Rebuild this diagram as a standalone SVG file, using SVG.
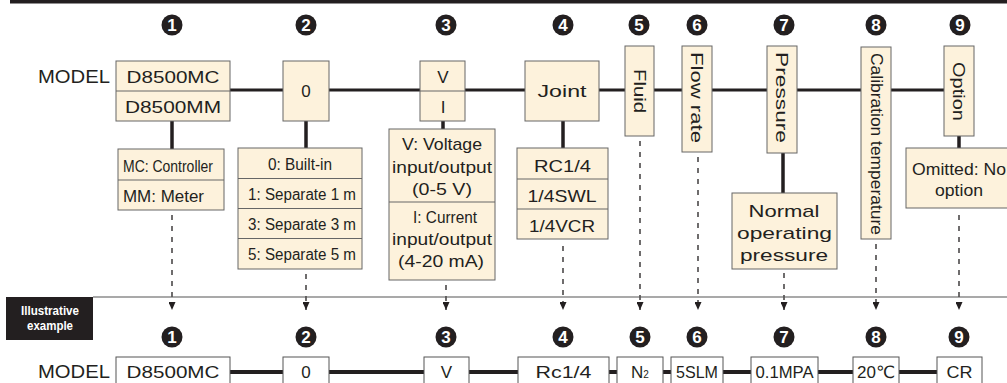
<svg xmlns="http://www.w3.org/2000/svg" width="1007" height="383" viewBox="0 0 1007 383">
<style>
text{font-family:"Liberation Sans","DejaVu Sans",sans-serif;fill:#231f20}
.bx{fill:#fdf2dc;stroke:#666;stroke-width:1}
.wb{fill:#fff;stroke:#555;stroke-width:1}
.main{stroke:#231f20;stroke-width:3;fill:none}
.mainb{stroke:#231f20;stroke-width:4;fill:none}
.vc{stroke:#231f20;stroke-width:3.5;fill:none}
.dash{stroke:#231f20;stroke-width:1.3;stroke-dasharray:5 6;fill:none}
.num{fill:#231f20}
.nt{fill:#fff;font-weight:bold;font-size:17px;text-anchor:middle}
.t17{font-size:17px}
.t16{font-size:16px}
.t14{font-size:14px}
.m{text-anchor:middle}
.w{fill:#fff;font-weight:bold;font-size:12px;text-anchor:middle}
</style>
<defs>
<marker id="arr" viewBox="0 0 8 7" refX="8" refY="3.5" markerWidth="8" markerHeight="7" markerUnits="userSpaceOnUse" orient="auto">
<path d="M0,0 L8,3.5 L0,7 z" fill="#231f20"/>
</marker>
</defs>
<rect x="10" y="0" width="997" height="3.5" fill="#231f20"/>

<g id="connectors">
<line class="main" x1="230" y1="90" x2="944" y2="90"/>
<line class="vc" x1="172" y1="121" x2="172" y2="149"/>
<line class="vc" x1="306" y1="121" x2="306" y2="148"/>
<line class="vc" x1="443" y1="121" x2="443" y2="129"/>
<line class="vc" x1="563" y1="121" x2="563" y2="148"/>
<line class="vc" x1="783" y1="153" x2="783" y2="193"/>
<line class="vc" x1="959" y1="136" x2="959" y2="148"/>
<line class="dash" x1="172" y1="215" x2="172" y2="310" marker-end="url(#arr)"/>
<line class="dash" x1="306" y1="274" x2="306" y2="310" marker-end="url(#arr)"/>
<line class="dash" x1="446" y1="285" x2="446" y2="310" marker-end="url(#arr)"/>
<line class="dash" x1="563" y1="246" x2="563" y2="310" marker-end="url(#arr)"/>
<line class="dash" x1="640" y1="141" x2="640" y2="310" marker-end="url(#arr)"/>
<line class="dash" x1="698" y1="157" x2="698" y2="310" marker-end="url(#arr)"/>
<line class="dash" x1="784" y1="273" x2="784" y2="310" marker-end="url(#arr)"/>
<line class="dash" x1="876" y1="244" x2="876" y2="310" marker-end="url(#arr)"/>
<line class="dash" x1="959" y1="215" x2="959" y2="310" marker-end="url(#arr)"/>
<line x1="93" y1="297" x2="1007" y2="297" stroke="#555" stroke-width="1.2"/>
<line class="mainb" x1="230" y1="372" x2="937" y2="372"/>
</g>

<g id="numbers-top">
<circle class="num" cx="172" cy="25" r="10.5"/><text class="nt" x="172" y="31">1</text>
<circle class="num" cx="306" cy="25" r="10.5"/><text class="nt" x="306" y="31">2</text>
<circle class="num" cx="446" cy="25" r="10.5"/><text class="nt" x="446" y="31">3</text>
<circle class="num" cx="563" cy="25" r="10.5"/><text class="nt" x="563" y="31">4</text>
<circle class="num" cx="639" cy="25" r="10.5"/><text class="nt" x="639" y="31">5</text>
<circle class="num" cx="697" cy="25" r="10.5"/><text class="nt" x="697" y="31">6</text>
<circle class="num" cx="784" cy="25" r="10.5"/><text class="nt" x="784" y="31">7</text>
<circle class="num" cx="876" cy="25" r="10.5"/><text class="nt" x="876" y="31">8</text>
<circle class="num" cx="960" cy="25" r="10.5"/><text class="nt" x="960" y="31">9</text>
</g>

<text x="38" y="83" font-size="18" textLength="72" lengthAdjust="spacingAndGlyphs">MODEL</text>

<g id="n1">
<rect class="bx" x="116" y="61" width="114" height="60"/>
<line x1="116" y1="91" x2="230" y2="91" stroke="#666"/>
<text class="t17 m" x="173" y="83" textLength="93" lengthAdjust="spacingAndGlyphs">D8500MC</text>
<text class="t17 m" x="173" y="113" textLength="96" lengthAdjust="spacingAndGlyphs">D8500MM</text>
</g>
<g id="n1-sub">
<rect class="bx" x="118" y="149" width="106" height="61"/>
<line x1="118" y1="180" x2="224" y2="180" stroke="#666"/>
<text class="t16" x="123" y="172" textLength="90" lengthAdjust="spacingAndGlyphs">MC: Controller</text>
<text class="t16" x="123" y="202" textLength="81" lengthAdjust="spacingAndGlyphs">MM: Meter</text>
</g>

<g id="n2">
<rect class="bx" x="283" y="61" width="46" height="60"/>
<text class="t17 m" x="306" y="97">0</text>
</g>
<g id="n2-sub">
<rect class="bx" x="238" y="148" width="124" height="121"/>
<line x1="238" y1="178.5" x2="362" y2="178.5" stroke="#666"/>
<line x1="238" y1="208.5" x2="362" y2="208.5" stroke="#666"/>
<line x1="238" y1="238.5" x2="362" y2="238.5" stroke="#666"/>
<text class="t16" x="268" y="170" textLength="64" lengthAdjust="spacingAndGlyphs">0: Built-in</text>
<text class="t16" x="248" y="200" textLength="108" lengthAdjust="spacingAndGlyphs">1: Separate 1 m</text>
<text class="t16" x="248" y="230" textLength="108" lengthAdjust="spacingAndGlyphs">3: Separate 3 m</text>
<text class="t16" x="248" y="260" textLength="108" lengthAdjust="spacingAndGlyphs">5: Separate 5 m</text>
</g>

<g id="n3">
<rect class="bx" x="420" y="61" width="45" height="60"/>
<line x1="420" y1="91" x2="465" y2="91" stroke="#666"/>
<text class="t17 m" x="443" y="83">V</text>
<text class="t17 m" x="443" y="113">I</text>
</g>
<g id="n3-sub">
<rect class="bx" x="389" y="129" width="106" height="151"/>
<line x1="389" y1="202" x2="495" y2="202" stroke="#666"/>
<text class="t17 m" x="442" y="150" textLength="80" lengthAdjust="spacingAndGlyphs">V: Voltage</text>
<text class="t17 m" x="442" y="173" textLength="100" lengthAdjust="spacingAndGlyphs">input/output</text>
<text class="t17 m" x="442" y="195" textLength="60" lengthAdjust="spacingAndGlyphs">(0-5 V)</text>
<text class="t17 m" x="445" y="223" textLength="64" lengthAdjust="spacingAndGlyphs">I: Current</text>
<text class="t17 m" x="442" y="245" textLength="100" lengthAdjust="spacingAndGlyphs">input/output</text>
<text class="t17 m" x="441" y="267" textLength="86" lengthAdjust="spacingAndGlyphs">(4-20 mA)</text>
</g>

<g id="n4">
<rect class="bx" x="525" y="61" width="74" height="60"/>
<text class="t17 m" x="562" y="97" textLength="49" lengthAdjust="spacingAndGlyphs">Joint</text>
</g>
<g id="n4-sub">
<rect class="bx" x="517" y="148" width="91" height="91"/>
<line x1="517" y1="179" x2="608" y2="179" stroke="#666"/>
<line x1="517" y1="209" x2="608" y2="209" stroke="#666"/>
<text class="t17 m" x="562.5" y="172" textLength="57" lengthAdjust="spacingAndGlyphs">RC1/4</text>
<text class="t17 m" x="562" y="202" textLength="69" lengthAdjust="spacingAndGlyphs">1/4SWL</text>
<text class="t17 m" x="562" y="232" textLength="66" lengthAdjust="spacingAndGlyphs">1/4VCR</text>
</g>

<g id="n5">
<rect class="bx" x="625" y="46" width="29" height="90"/>
<text class="t16 m" transform="translate(639.5,91) rotate(90)" x="0" y="5.8" textLength="44" lengthAdjust="spacingAndGlyphs">Fluid</text>
</g>

<g id="n6">
<rect class="bx" x="682" y="46" width="30" height="106"/>
<text class="t17 m" transform="translate(697,97.5) rotate(90)" x="0" y="6" textLength="91" lengthAdjust="spacingAndGlyphs">Flow rate</text>
</g>

<g id="n7">
<rect class="bx" x="767" y="46" width="30" height="107"/>
<text class="t17 m" transform="translate(782,97.5) rotate(90)" x="0" y="6" textLength="91" lengthAdjust="spacingAndGlyphs">Pressure</text>
</g>
<g id="n7-sub">
<rect class="bx" x="732" y="193" width="105" height="76"/>
<text class="t17 m" x="784" y="217" textLength="71" lengthAdjust="spacingAndGlyphs">Normal</text>
<text class="t17 m" x="784.5" y="239" textLength="95" lengthAdjust="spacingAndGlyphs">operating</text>
<text class="t17 m" x="784" y="261" textLength="88" lengthAdjust="spacingAndGlyphs">pressure</text>
</g>

<g id="n8">
<rect class="bx" x="861" y="47" width="30" height="192"/>
<text class="t16 m" transform="translate(876,144) rotate(90)" x="0" y="5.5" textLength="182" lengthAdjust="spacingAndGlyphs">Calibration temperature</text>
</g>

<g id="n9">
<rect class="bx" x="944" y="46" width="30" height="90"/>
<text class="t17 m" transform="translate(959,91.5) rotate(90)" x="0" y="6" textLength="59" lengthAdjust="spacingAndGlyphs">Option</text>
</g>
<g id="n9-sub">
<rect class="bx" x="906" y="148" width="106" height="60"/>
<text class="t17 m" x="959" y="175" textLength="94" lengthAdjust="spacingAndGlyphs">Omitted: No</text>
<text class="t17 m" x="959" y="196" textLength="48" lengthAdjust="spacingAndGlyphs">option</text>
</g>

<g id="example-label">
<rect x="6" y="297" width="87" height="43" fill="#231f20"/>
<text class="w" x="50" y="315" textLength="58" lengthAdjust="spacingAndGlyphs">Illustrative</text>
<text class="w" x="50" y="330" textLength="46" lengthAdjust="spacingAndGlyphs">example</text>
</g>

<g id="numbers-bottom">
<circle class="num" cx="172" cy="337" r="10.5"/><text class="nt" x="172" y="343">1</text>
<circle class="num" cx="306" cy="337" r="10.5"/><text class="nt" x="306" y="343">2</text>
<circle class="num" cx="446" cy="337" r="10.5"/><text class="nt" x="446" y="343">3</text>
<circle class="num" cx="563" cy="337" r="10.5"/><text class="nt" x="563" y="343">4</text>
<circle class="num" cx="640" cy="337" r="10.5"/><text class="nt" x="640" y="343">5</text>
<circle class="num" cx="697" cy="337" r="10.5"/><text class="nt" x="697" y="343">6</text>
<circle class="num" cx="784" cy="337" r="10.5"/><text class="nt" x="784" y="343">7</text>
<circle class="num" cx="876" cy="337" r="10.5"/><text class="nt" x="876" y="343">8</text>
<circle class="num" cx="959" cy="337" r="10.5"/><text class="nt" x="959" y="343">9</text>
</g>

<text x="38" y="378" font-size="18" textLength="72" lengthAdjust="spacingAndGlyphs">MODEL</text>
<g id="e1"><rect class="wb" x="116" y="357" width="114" height="40"/><text class="t17 m" x="173" y="378" textLength="93" lengthAdjust="spacingAndGlyphs">D8500MC</text></g>
<g id="e2"><rect class="wb" x="283" y="357" width="46" height="40"/><text class="t17 m" x="306" y="378">0</text></g>
<g id="e3"><rect class="wb" x="424" y="357" width="45" height="40"/><text class="t17 m" x="446.5" y="378">V</text></g>
<g id="e4"><rect class="wb" x="518" y="357" width="91" height="40"/><text class="t17 m" x="563.5" y="378" textLength="56" lengthAdjust="spacingAndGlyphs">Rc1/4</text></g>
<g id="e5"><rect class="wb" x="617" y="357" width="46" height="40"/><text class="t17 m" x="640" y="378">N<tspan font-size="10">2</tspan></text></g>
<g id="e6"><rect class="wb" x="671" y="357" width="52" height="40"/><text class="t17 m" x="697" y="378" textLength="42" lengthAdjust="spacingAndGlyphs">5SLM</text></g>
<g id="e7"><rect class="wb" x="751" y="357" width="67" height="40"/><text class="t17 m" x="784.5" y="378" textLength="58" lengthAdjust="spacingAndGlyphs">0.1MPA</text></g>
<g id="e8"><rect class="wb" x="853" y="357" width="46" height="40"/><text class="t17 m" x="876" y="378" textLength="38" lengthAdjust="spacingAndGlyphs">20℃</text></g>
<g id="e9"><rect class="wb" x="937" y="357" width="45" height="40"/><text class="t17 m" x="959.5" y="378" textLength="26" lengthAdjust="spacingAndGlyphs">CR</text></g>
</svg>
